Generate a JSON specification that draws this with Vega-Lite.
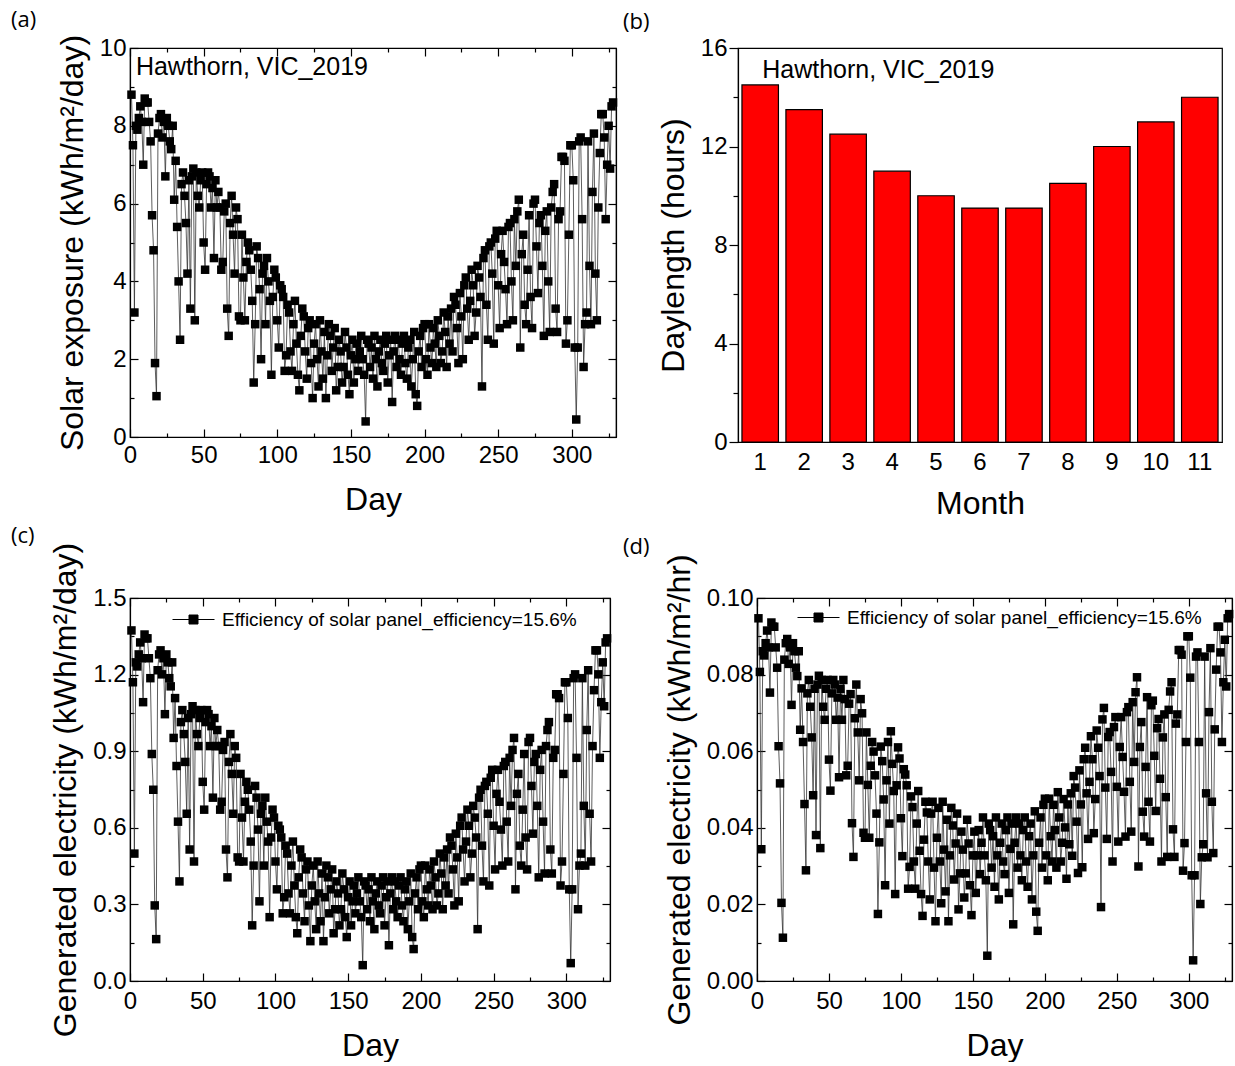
{
"$schema": "https://vega.github.io/schema/vega-lite/v6.json",
"background": "white",
"padding": {"left": 10, "top": 8, "right": 0, "bottom": 0},
"spacing": 4,
"resolve": {"scale": {"color": "independent"}, "legend": {"color": "independent"}},
"config": {
  "view": {"stroke": "black", "strokeWidth": 1.2},
  "font": "Liberation Sans",
  "axis": {"labelFont": "Liberation Sans", "labelFontSize": 24, "labelColor": "black", "titleFont": "Liberation Sans", "titleFontSize": 32, "titleFontWeight": "normal", "titleColor": "black", "domainColor": "black", "domainWidth": 1.2, "tickColor": "black", "tickWidth": 1.2, "grid": false, "labelOverlap": false, "labelFlush": false},
  "legend": {"labelFont": "Liberation Sans", "labelFontSize": 19, "labelLimit": 600, "labelColor": "black"},
  "title": {"font": "Open Sans", "fontSize": 22, "fontWeight": "normal", "anchor": "start", "frame": "group", "color": "black"}
},
"datasets": {
"months": [{"month":1,"hours":14.5},{"month":2,"hours":13.5},{"month":3,"hours":12.5},{"month":4,"hours":11},{"month":5,"hours":10},{"month":6,"hours":9.5},{"month":7,"hours":9.5},{"month":8,"hours":10.5},{"month":9,"hours":12},{"month":10,"hours":13},{"month":11,"hours":14}],
"solar": [
{"day":1,"s":8.8,"e":1.373,"h":0.0947},{"day":2,"s":7.5,"e":1.17,"h":0.0807},{"day":3,"s":3.2,"e":0.499,"h":0.0344},{"day":4,"s":8.0,"e":1.248,"h":0.0861},{"day":5,"s":7.9,"e":1.232,"h":0.085},{"day":6,"s":8.2,"e":1.279,"h":0.0882},{"day":7,"s":8.5,"e":1.326,"h":0.0915},{"day":8,"s":8.1,"e":1.264,"h":0.0871},{"day":9,"s":7.0,"e":1.092,"h":0.0753},{"day":10,"s":8.7,"e":1.357,"h":0.0936},
{"day":11,"s":8.6,"e":1.342,"h":0.0925},{"day":12,"s":8.6,"e":1.342,"h":0.0925},{"day":13,"s":8.1,"e":1.264,"h":0.0871},{"day":14,"s":7.6,"e":1.186,"h":0.0818},{"day":15,"s":5.7,"e":0.889,"h":0.0613},{"day":16,"s":4.8,"e":0.749,"h":0.0516},{"day":17,"s":1.9,"e":0.296,"h":0.0204},{"day":18,"s":1.05,"e":0.164,"h":0.0113},{"day":19,"s":7.8,"e":1.217,"h":0.0839},{"day":20,"s":8.2,"e":1.279,"h":0.0882},
{"day":21,"s":8.3,"e":1.295,"h":0.0893},{"day":22,"s":7.7,"e":1.201,"h":0.0828},{"day":23,"s":8.1,"e":1.264,"h":0.0871},{"day":24,"s":6.7,"e":1.045,"h":0.0721},{"day":25,"s":8.2,"e":1.279,"h":0.0882},{"day":26,"s":8.0,"e":1.248,"h":0.0861},{"day":27,"s":7.6,"e":1.186,"h":0.0818},{"day":28,"s":7.4,"e":1.154,"h":0.0796},{"day":29,"s":8.0,"e":1.248,"h":0.0861},{"day":30,"s":6.1,"e":0.952,"h":0.0656},
{"day":31,"s":7.1,"e":1.108,"h":0.0764},{"day":32,"s":5.4,"e":0.842,"h":0.0624},{"day":33,"s":4.0,"e":0.624,"h":0.0462},{"day":34,"s":2.5,"e":0.39,"h":0.0289},{"day":35,"s":6.5,"e":1.014,"h":0.0751},{"day":36,"s":6.8,"e":1.061,"h":0.0786},{"day":37,"s":6.2,"e":0.967,"h":0.0716},{"day":38,"s":5.5,"e":0.858,"h":0.0636},{"day":39,"s":4.2,"e":0.655,"h":0.0485},{"day":40,"s":6.6,"e":1.03,"h":0.0763},
{"day":41,"s":3.3,"e":0.515,"h":0.0381},{"day":42,"s":6.7,"e":1.045,"h":0.0774},{"day":43,"s":6.9,"e":1.076,"h":0.0797},{"day":44,"s":3.0,"e":0.468,"h":0.0347},{"day":45,"s":6.8,"e":1.061,"h":0.0786},{"day":46,"s":6.2,"e":0.967,"h":0.0716},{"day":47,"s":5.9,"e":0.92,"h":0.0682},{"day":48,"s":6.6,"e":1.03,"h":0.0763},{"day":49,"s":6.8,"e":1.061,"h":0.0786},{"day":50,"s":5.0,"e":0.78,"h":0.0578},
{"day":51,"s":4.3,"e":0.671,"h":0.0497},{"day":52,"s":6.5,"e":1.014,"h":0.0751},{"day":53,"s":6.8,"e":1.061,"h":0.0786},{"day":54,"s":6.7,"e":1.045,"h":0.0774},{"day":55,"s":5.9,"e":0.92,"h":0.0682},{"day":56,"s":6.4,"e":0.998,"h":0.074},{"day":57,"s":4.6,"e":0.718,"h":0.0532},{"day":58,"s":6.6,"e":1.03,"h":0.0763},{"day":59,"s":5.9,"e":0.92,"h":0.0682},{"day":60,"s":6.3,"e":0.983,"h":0.0786},
{"day":61,"s":5.9,"e":0.92,"h":0.0736},{"day":62,"s":4.3,"e":0.671,"h":0.0537},{"day":63,"s":4.5,"e":0.702,"h":0.0562},{"day":64,"s":5.8,"e":0.905,"h":0.0724},{"day":65,"s":6.0,"e":0.936,"h":0.0749},{"day":66,"s":3.3,"e":0.515,"h":0.0412},{"day":67,"s":2.6,"e":0.406,"h":0.0324},{"day":68,"s":5.5,"e":0.858,"h":0.0686},{"day":69,"s":6.2,"e":0.967,"h":0.0774},{"day":70,"s":5.2,"e":0.811,"h":0.0649},
{"day":71,"s":4.2,"e":0.655,"h":0.0524},{"day":72,"s":5.9,"e":0.92,"h":0.0736},{"day":73,"s":5.6,"e":0.874,"h":0.0699},{"day":74,"s":3.1,"e":0.484,"h":0.0387},{"day":75,"s":3.0,"e":0.468,"h":0.0374},{"day":76,"s":5.2,"e":0.811,"h":0.0649},{"day":77,"s":4.1,"e":0.64,"h":0.0512},{"day":78,"s":3.0,"e":0.468,"h":0.0374},{"day":79,"s":4.5,"e":0.702,"h":0.0562},{"day":80,"s":5.0,"e":0.78,"h":0.0624},
{"day":81,"s":4.8,"e":0.749,"h":0.0599},{"day":82,"s":4.3,"e":0.671,"h":0.0537},{"day":83,"s":3.5,"e":0.546,"h":0.0437},{"day":84,"s":1.4,"e":0.218,"h":0.0175},{"day":85,"s":2.9,"e":0.452,"h":0.0362},{"day":86,"s":4.9,"e":0.764,"h":0.0612},{"day":87,"s":4.6,"e":0.718,"h":0.0574},{"day":88,"s":3.8,"e":0.593,"h":0.0474},{"day":89,"s":2.0,"e":0.312,"h":0.025},{"day":90,"s":4.2,"e":0.655,"h":0.0524},
{"day":91,"s":4.4,"e":0.686,"h":0.0624},{"day":92,"s":2.9,"e":0.452,"h":0.0411},{"day":93,"s":4.6,"e":0.718,"h":0.0652},{"day":94,"s":4.0,"e":0.624,"h":0.0567},{"day":95,"s":3.5,"e":0.546,"h":0.0496},{"day":96,"s":1.6,"e":0.25,"h":0.0227},{"day":97,"s":3.6,"e":0.562,"h":0.0511},{"day":98,"s":4.3,"e":0.671,"h":0.061},{"day":99,"s":4.1,"e":0.64,"h":0.0581},{"day":100,"s":3.0,"e":0.468,"h":0.0425},
{"day":101,"s":2.3,"e":0.359,"h":0.0326},{"day":102,"s":3.9,"e":0.608,"h":0.0553},{"day":103,"s":3.8,"e":0.593,"h":0.0539},{"day":104,"s":3.6,"e":0.562,"h":0.0511},{"day":105,"s":1.7,"e":0.265,"h":0.0241},{"day":106,"s":2.1,"e":0.328,"h":0.0298},{"day":107,"s":3.4,"e":0.53,"h":0.0482},{"day":108,"s":3.2,"e":0.499,"h":0.0454},{"day":109,"s":2.2,"e":0.343,"h":0.0312},{"day":110,"s":1.7,"e":0.265,"h":0.0241},
{"day":111,"s":2.9,"e":0.452,"h":0.0411},{"day":112,"s":3.5,"e":0.546,"h":0.0496},{"day":113,"s":2.4,"e":0.374,"h":0.034},{"day":114,"s":1.6,"e":0.25,"h":0.0227},{"day":115,"s":1.2,"e":0.187,"h":0.017},{"day":116,"s":2.6,"e":0.406,"h":0.0369},{"day":117,"s":3.3,"e":0.515,"h":0.0468},{"day":118,"s":3.1,"e":0.484,"h":0.044},{"day":119,"s":2.2,"e":0.343,"h":0.0312},{"day":120,"s":1.5,"e":0.234,"h":0.0213},
{"day":121,"s":2.8,"e":0.437,"h":0.0437},{"day":122,"s":3.0,"e":0.468,"h":0.0468},{"day":123,"s":1.9,"e":0.296,"h":0.0296},{"day":124,"s":1.0,"e":0.156,"h":0.0156},{"day":125,"s":2.4,"e":0.374,"h":0.0374},{"day":126,"s":2.9,"e":0.452,"h":0.0452},{"day":127,"s":2.0,"e":0.312,"h":0.0312},{"day":128,"s":1.3,"e":0.203,"h":0.0203},{"day":129,"s":3.0,"e":0.468,"h":0.0468},{"day":130,"s":2.2,"e":0.343,"h":0.0343},
{"day":131,"s":1.5,"e":0.234,"h":0.0234},{"day":132,"s":2.7,"e":0.421,"h":0.0421},{"day":133,"s":1.0,"e":0.156,"h":0.0156},{"day":134,"s":2.1,"e":0.328,"h":0.0328},{"day":135,"s":2.9,"e":0.452,"h":0.0452},{"day":136,"s":2.6,"e":0.406,"h":0.0406},{"day":137,"s":1.7,"e":0.265,"h":0.0265},{"day":138,"s":2.3,"e":0.359,"h":0.0359},{"day":139,"s":2.8,"e":0.437,"h":0.0437},{"day":140,"s":1.2,"e":0.187,"h":0.0187},
{"day":141,"s":1.8,"e":0.281,"h":0.0281},{"day":142,"s":2.5,"e":0.39,"h":0.039},{"day":143,"s":2.2,"e":0.343,"h":0.0343},{"day":144,"s":1.4,"e":0.218,"h":0.0218},{"day":145,"s":1.8,"e":0.281,"h":0.0281},{"day":146,"s":2.7,"e":0.421,"h":0.0421},{"day":147,"s":2.3,"e":0.359,"h":0.0359},{"day":148,"s":1.6,"e":0.25,"h":0.025},{"day":149,"s":1.1,"e":0.172,"h":0.0172},{"day":150,"s":2.1,"e":0.328,"h":0.0328},
{"day":151,"s":2.5,"e":0.39,"h":0.039},{"day":152,"s":1.4,"e":0.218,"h":0.023},{"day":153,"s":2.0,"e":0.312,"h":0.0328},{"day":154,"s":2.4,"e":0.374,"h":0.0394},{"day":155,"s":1.7,"e":0.265,"h":0.0279},{"day":156,"s":2.2,"e":0.343,"h":0.0361},{"day":157,"s":2.6,"e":0.406,"h":0.0427},{"day":158,"s":2.0,"e":0.312,"h":0.0328},{"day":159,"s":1.6,"e":0.25,"h":0.0263},{"day":160,"s":0.4,"e":0.062,"h":0.0066},
{"day":161,"s":2.5,"e":0.39,"h":0.0411},{"day":162,"s":2.4,"e":0.374,"h":0.0394},{"day":163,"s":1.8,"e":0.281,"h":0.0296},{"day":164,"s":2.3,"e":0.359,"h":0.0378},{"day":165,"s":1.5,"e":0.234,"h":0.0246},{"day":166,"s":2.6,"e":0.406,"h":0.0427},{"day":167,"s":2.0,"e":0.312,"h":0.0328},{"day":168,"s":1.3,"e":0.203,"h":0.0213},{"day":169,"s":2.2,"e":0.343,"h":0.0361},{"day":170,"s":2.5,"e":0.39,"h":0.0411},
{"day":171,"s":1.9,"e":0.296,"h":0.0312},{"day":172,"s":1.7,"e":0.265,"h":0.0279},{"day":173,"s":2.4,"e":0.374,"h":0.0394},{"day":174,"s":2.6,"e":0.406,"h":0.0427},{"day":175,"s":1.4,"e":0.218,"h":0.023},{"day":176,"s":2.1,"e":0.328,"h":0.0345},{"day":177,"s":2.5,"e":0.39,"h":0.0411},{"day":178,"s":0.9,"e":0.14,"h":0.0148},{"day":179,"s":2.2,"e":0.343,"h":0.0361},{"day":180,"s":2.6,"e":0.406,"h":0.0427},
{"day":181,"s":1.8,"e":0.281,"h":0.0296},{"day":182,"s":2.5,"e":0.39,"h":0.0411},{"day":183,"s":2.0,"e":0.312,"h":0.0328},{"day":184,"s":1.6,"e":0.25,"h":0.0263},{"day":185,"s":2.4,"e":0.374,"h":0.0394},{"day":186,"s":2.6,"e":0.406,"h":0.0427},{"day":187,"s":1.9,"e":0.296,"h":0.0312},{"day":188,"s":1.5,"e":0.234,"h":0.0246},{"day":189,"s":2.3,"e":0.359,"h":0.0378},{"day":190,"s":2.5,"e":0.39,"h":0.0411},
{"day":191,"s":1.3,"e":0.203,"h":0.0213},{"day":192,"s":2.0,"e":0.312,"h":0.0328},{"day":193,"s":2.7,"e":0.421,"h":0.0443},{"day":194,"s":1.1,"e":0.172,"h":0.0181},{"day":195,"s":0.8,"e":0.125,"h":0.0131},{"day":196,"s":2.2,"e":0.343,"h":0.0361},{"day":197,"s":2.6,"e":0.406,"h":0.0427},{"day":198,"s":1.8,"e":0.281,"h":0.0296},{"day":199,"s":2.8,"e":0.437,"h":0.046},{"day":200,"s":2.9,"e":0.452,"h":0.0476},
{"day":201,"s":2.0,"e":0.312,"h":0.0328},{"day":202,"s":1.6,"e":0.25,"h":0.0263},{"day":203,"s":2.9,"e":0.452,"h":0.0476},{"day":204,"s":2.3,"e":0.359,"h":0.0378},{"day":205,"s":1.9,"e":0.296,"h":0.0312},{"day":206,"s":2.8,"e":0.437,"h":0.046},{"day":207,"s":2.4,"e":0.374,"h":0.0394},{"day":208,"s":1.8,"e":0.281,"h":0.0296},{"day":209,"s":3.0,"e":0.468,"h":0.0493},{"day":210,"s":2.6,"e":0.406,"h":0.0427},
{"day":211,"s":1.9,"e":0.296,"h":0.0312},{"day":212,"s":2.2,"e":0.343,"h":0.0361},{"day":213,"s":3.2,"e":0.499,"h":0.0475},{"day":214,"s":2.7,"e":0.421,"h":0.0401},{"day":215,"s":1.8,"e":0.281,"h":0.0267},{"day":216,"s":3.1,"e":0.484,"h":0.0461},{"day":217,"s":2.4,"e":0.374,"h":0.0357},{"day":218,"s":3.3,"e":0.515,"h":0.049},{"day":219,"s":2.2,"e":0.343,"h":0.0327},{"day":220,"s":3.6,"e":0.562,"h":0.0535},
{"day":221,"s":3.4,"e":0.53,"h":0.0505},{"day":222,"s":2.8,"e":0.437,"h":0.0416},{"day":223,"s":1.9,"e":0.296,"h":0.0282},{"day":224,"s":3.7,"e":0.577,"h":0.055},{"day":225,"s":3.1,"e":0.484,"h":0.0461},{"day":226,"s":2.0,"e":0.312,"h":0.0297},{"day":227,"s":3.9,"e":0.608,"h":0.0579},{"day":228,"s":4.1,"e":0.64,"h":0.0609},{"day":229,"s":3.3,"e":0.515,"h":0.049},{"day":230,"s":2.5,"e":0.39,"h":0.0371},
{"day":231,"s":3.5,"e":0.546,"h":0.052},{"day":232,"s":4.3,"e":0.671,"h":0.0639},{"day":233,"s":3.9,"e":0.608,"h":0.0579},{"day":234,"s":2.6,"e":0.406,"h":0.0386},{"day":235,"s":3.2,"e":0.499,"h":0.0475},{"day":236,"s":4.4,"e":0.686,"h":0.0654},{"day":237,"s":4.1,"e":0.64,"h":0.0609},{"day":238,"s":3.6,"e":0.562,"h":0.0535},{"day":239,"s":1.3,"e":0.203,"h":0.0193},{"day":240,"s":4.6,"e":0.718,"h":0.0683},
{"day":241,"s":4.8,"e":0.749,"h":0.0713},{"day":242,"s":3.4,"e":0.53,"h":0.0505},{"day":243,"s":2.5,"e":0.39,"h":0.0371},{"day":244,"s":4.9,"e":0.764,"h":0.0637},{"day":245,"s":5.0,"e":0.78,"h":0.065},{"day":246,"s":4.2,"e":0.655,"h":0.0546},{"day":247,"s":2.4,"e":0.374,"h":0.0312},{"day":248,"s":5.1,"e":0.796,"h":0.0663},{"day":249,"s":5.3,"e":0.827,"h":0.0689},{"day":250,"s":3.9,"e":0.608,"h":0.0507},
{"day":251,"s":2.8,"e":0.437,"h":0.0364},{"day":252,"s":4.7,"e":0.733,"h":0.0611},{"day":253,"s":5.3,"e":0.827,"h":0.0689},{"day":254,"s":4.5,"e":0.702,"h":0.0585},{"day":255,"s":3.8,"e":0.593,"h":0.0494},{"day":256,"s":2.9,"e":0.452,"h":0.0377},{"day":257,"s":5.4,"e":0.842,"h":0.0702},{"day":258,"s":5.5,"e":0.858,"h":0.0715},{"day":259,"s":4.0,"e":0.624,"h":0.052},{"day":260,"s":3.0,"e":0.468,"h":0.039},
{"day":261,"s":5.6,"e":0.874,"h":0.0728},{"day":262,"s":4.4,"e":0.686,"h":0.0572},{"day":263,"s":5.8,"e":0.905,"h":0.0754},{"day":264,"s":6.1,"e":0.952,"h":0.0793},{"day":265,"s":2.3,"e":0.359,"h":0.0299},{"day":266,"s":4.7,"e":0.733,"h":0.0611},{"day":267,"s":5.2,"e":0.811,"h":0.0676},{"day":268,"s":3.4,"e":0.53,"h":0.0442},{"day":269,"s":2.9,"e":0.452,"h":0.0377},{"day":270,"s":4.3,"e":0.671,"h":0.0559},
{"day":271,"s":5.7,"e":0.889,"h":0.0741},{"day":272,"s":3.6,"e":0.562,"h":0.0468},{"day":273,"s":2.8,"e":0.437,"h":0.0364},{"day":274,"s":6.0,"e":0.936,"h":0.072},{"day":275,"s":6.1,"e":0.952,"h":0.0732},{"day":276,"s":4.9,"e":0.764,"h":0.0588},{"day":277,"s":3.7,"e":0.577,"h":0.0444},{"day":278,"s":5.5,"e":0.858,"h":0.066},{"day":279,"s":5.7,"e":0.889,"h":0.0684},{"day":280,"s":4.4,"e":0.686,"h":0.0528},
{"day":281,"s":2.6,"e":0.406,"h":0.0312},{"day":282,"s":5.3,"e":0.827,"h":0.0636},{"day":283,"s":5.8,"e":0.905,"h":0.0696},{"day":284,"s":4.0,"e":0.624,"h":0.048},{"day":285,"s":2.7,"e":0.421,"h":0.0324},{"day":286,"s":5.9,"e":0.92,"h":0.0708},{"day":287,"s":6.3,"e":0.983,"h":0.0756},{"day":288,"s":6.5,"e":1.014,"h":0.078},{"day":289,"s":3.3,"e":0.515,"h":0.0396},{"day":290,"s":2.7,"e":0.421,"h":0.0324},
{"day":291,"s":5.6,"e":0.874,"h":0.0672},{"day":292,"s":5.8,"e":0.905,"h":0.0696},{"day":293,"s":7.2,"e":1.123,"h":0.0864},{"day":294,"s":7.2,"e":1.123,"h":0.0864},{"day":295,"s":7.1,"e":1.108,"h":0.0852},{"day":296,"s":2.4,"e":0.374,"h":0.0288},{"day":297,"s":3.0,"e":0.468,"h":0.036},{"day":298,"s":5.2,"e":0.811,"h":0.0624},{"day":299,"s":7.5,"e":1.17,"h":0.09},{"day":300,"s":7.5,"e":1.17,"h":0.09},
{"day":301,"s":6.6,"e":1.03,"h":0.0792},{"day":302,"s":2.3,"e":0.359,"h":0.0276},{"day":303,"s":0.45,"e":0.07,"h":0.0054},{"day":304,"s":2.3,"e":0.359,"h":0.0276},{"day":305,"s":7.6,"e":1.186,"h":0.0847},{"day":306,"s":7.7,"e":1.201,"h":0.0858},{"day":307,"s":5.6,"e":0.874,"h":0.0624},{"day":308,"s":1.8,"e":0.281,"h":0.0201},{"day":309,"s":2.9,"e":0.452,"h":0.0323},{"day":310,"s":3.2,"e":0.499,"h":0.0357},
{"day":311,"s":7.6,"e":1.186,"h":0.0847},{"day":312,"s":4.4,"e":0.686,"h":0.049},{"day":313,"s":2.9,"e":0.452,"h":0.0323},{"day":314,"s":6.3,"e":0.983,"h":0.0702},{"day":315,"s":7.8,"e":1.217,"h":0.0869},{"day":316,"s":4.2,"e":0.655,"h":0.0468},{"day":317,"s":3.0,"e":0.468,"h":0.0334},{"day":318,"s":5.9,"e":0.92,"h":0.0657},{"day":319,"s":7.3,"e":1.139,"h":0.0813},{"day":320,"s":8.3,"e":1.295,"h":0.0925},
{"day":321,"s":8.3,"e":1.295,"h":0.0925},{"day":322,"s":7.7,"e":1.201,"h":0.0858},{"day":323,"s":5.6,"e":0.874,"h":0.0624},{"day":324,"s":7.0,"e":1.092,"h":0.078},{"day":325,"s":8.0,"e":1.248,"h":0.0891},{"day":326,"s":6.9,"e":1.076,"h":0.0769},{"day":327,"s":8.5,"e":1.326,"h":0.0947},{"day":328,"s":8.6,"e":1.342,"h":0.0958}
]
},
"vconcat": [
{
 "hconcat": [
  {
   "width": 486, "height": 389,
   "title": {"text": "(a)", "dx": -119, "offset": 2},
   "layer": [
    {"data": {"name": "solar"},
     "mark": {"type": "line", "color": "#333333", "strokeWidth": 0.8},
     "encoding": {
      "x": {"field": "day", "type": "quantitative", "scale": {"domain": [0, 330], "nice": false},
            "axis": {"orient": "bottom", "title": "Day", "values": [0,25,50,75,100,125,150,175,200,225,250,275,300,325], "labelExpr": "datum.value % 50 === 0 ? datum.label : ''", "tickSize": {"condition": {"test": "datum.value % 50 === 0", "value": -8}, "value": -4}, "labelPadding": 14, "titlePadding": 13}},
      "y": {"field": "s", "type": "quantitative", "scale": {"domain": [0, 10], "nice": false},
            "axis": {"orient": "left", "title": "Solar exposure (kWh/m²/day)", "values": [0,1,2,3,4,5,6,7,8,9,10], "labelExpr": "datum.value % 2 === 0 ? datum.label : ''", "tickSize": {"condition": {"test": "datum.value % 2 === 0", "value": -8}, "value": -4}, "labelPadding": 12, "titlePadding": 10}}
     }},
    {"data": {"name": "solar"},
     "mark": {"type": "point", "shape": "square", "filled": true, "color": "black", "size": 72, "opacity": 1},
     "encoding": {
      "x": {"field": "day", "type": "quantitative", "axis": {"orient": "top", "title": null, "labels": false, "values": [0,25,50,75,100,125,150,175,200,225,250,275,300,325], "tickSize": {"condition": {"test": "datum.value % 50 === 0", "value": -8}, "value": -4}}},
      "y": {"field": "s", "type": "quantitative", "axis": {"orient": "right", "title": null, "labels": false, "values": [0,1,2,3,4,5,6,7,8,9,10], "tickSize": {"condition": {"test": "datum.value % 2 === 0", "value": -8}, "value": -4}}}
     }},
    {"data": {"values": [{"label": "Hawthorn, VIC_2019"}]},
     "mark": {"type": "text", "align": "left", "baseline": "middle", "font": "Liberation Sans", "fontSize": 25, "color": "black"},
     "encoding": {"x": {"datum": 4, "type": "quantitative", "axis": null}, "y": {"datum": 9.5, "type": "quantitative", "axis": null}, "text": {"field": "label"}}}
   ],
   "resolve": {"axis": {"x": "independent", "y": "independent"}}
  },
  {
   "width": 484, "height": 394,
   "title": {"text": "(b)", "dx": -115, "offset": 2},
   "layer": [
    {"data": {"name": "months"},
     "mark": {"type": "bar", "color": "#ff0000", "stroke": "black", "strokeWidth": 1.2},
     "encoding": {
      "x": {"field": "month", "type": "ordinal", "scale": {"paddingInner": 0.17, "paddingOuter": 0.09},
            "axis": {"title": "Month", "labelAngle": 0, "ticks": false, "labelPadding": 8, "titlePadding": 14}},
      "y": {"field": "hours", "type": "quantitative", "scale": {"domain": [0, 16], "nice": false},
            "axis": {"title": "Daylength (hours)", "values": [0,2,4,6,8,10,12,14,16], "labelExpr": "datum.value % 4 === 0 ? datum.label : ''", "tickSize": {"condition": {"test": "datum.value % 4 === 0", "value": 9}, "value": 5}, "labelPadding": 2, "titlePadding": 10}}
     }},
    {"data": {"values": [{"label": "Hawthorn, VIC_2019"}]},
     "mark": {"type": "text", "align": "left", "baseline": "middle", "font": "Liberation Sans", "fontSize": 25, "color": "black", "dx": 2},
     "encoding": {"x": {"datum": 1, "type": "ordinal"}, "y": {"datum": 15.1, "type": "quantitative"}, "text": {"field": "label"}}}
   ]
  }
 ],
 "spacing": 122,
 "bounds": "flush"
},
{
 "hconcat": [
  {
   "width": 480, "height": 383,
   "title": {"text": "(c)", "dx": -119, "offset": -6},
   "layer": [
    {"data": {"name": "solar"},
     "mark": {"type": "line", "color": "#333333", "strokeWidth": 0.8},
     "encoding": {
      "x": {"field": "day", "type": "quantitative", "scale": {"domain": [0, 330], "nice": false},
            "axis": {"orient": "bottom", "title": "Day", "values": [0,25,50,75,100,125,150,175,200,225,250,275,300,325], "labelExpr": "datum.value % 50 === 0 ? datum.label : ''", "tickSize": {"condition": {"test": "datum.value % 50 === 0", "value": -8}, "value": -4}, "labelPadding": 16, "titlePadding": 13}},
      "y": {"field": "e", "type": "quantitative", "scale": {"domain": [0, 1.5], "nice": false},
            "axis": {"orient": "left", "title": "Generated electricity (kWh/m²/day)", "format": ".1f", "values": [0,0.15,0.3,0.45,0.6,0.75,0.9,1.05,1.2,1.35,1.5], "labelExpr": "round(datum.value*100) % 30 === 0 ? datum.label : ''", "tickSize": {"condition": {"test": "round(datum.value*100) % 30 === 0", "value": -8}, "value": -4}, "labelPadding": 12, "titlePadding": 10}}
     }},
    {"data": {"name": "solar"},
     "mark": {"type": "point", "shape": "square", "filled": true, "size": 72, "opacity": 1},
     "encoding": {
      "x": {"field": "day", "type": "quantitative", "axis": {"orient": "top", "title": null, "labels": false, "values": [0,25,50,75,100,125,150,175,200,225,250,275,300,325], "tickSize": {"condition": {"test": "datum.value % 50 === 0", "value": -8}, "value": -4}}},
      "y": {"field": "e", "type": "quantitative", "axis": {"orient": "right", "title": null, "labels": false, "values": [0,0.15,0.3,0.45,0.6,0.75,0.9,1.05,1.2,1.35,1.5], "tickSize": {"condition": {"test": "round(datum.value*100) % 30 === 0", "value": -8}, "value": -4}}},
      "color": {"datum": "Efficiency of solar panel_efficiency=15.6%", "scale": {"range": ["black"]},
                "legend": {"title": null, "orient": "none", "legendX": 53, "legendY": 11, "symbolType": "M-2.1,0H2.1M-0.45,-0.45H0.45V0.45H-0.45Z", "symbolSize": 400, "symbolStrokeColor": "black", "symbolStrokeWidth": 1, "symbolFillColor": "black", "labelFont": "Liberation Sans", "labelFontSize": 19, "labelLimit": 600, "labelColor": "black", "labelOffset": 18, "padding": 0,
                           "encode": {"symbols": {"stroke": {"value": "black"}, "strokeWidth": {"value": 1}, "fill": {"value": "black"}, "opacity": {"value": 1}}}}}
     }}
   ],
   "resolve": {"axis": {"x": "independent", "y": "independent"}}
  },
  {
   "width": 475, "height": 383,
   "title": {"text": "(d)", "dx": -134, "offset": -5},
   "layer": [
    {"data": {"name": "solar"},
     "mark": {"type": "line", "color": "#333333", "strokeWidth": 0.8},
     "encoding": {
      "x": {"field": "day", "type": "quantitative", "scale": {"domain": [0, 330], "nice": false},
            "axis": {"orient": "bottom", "title": "Day", "values": [0,25,50,75,100,125,150,175,200,225,250,275,300,325], "labelExpr": "datum.value % 50 === 0 ? datum.label : ''", "tickSize": {"condition": {"test": "datum.value % 50 === 0", "value": -8}, "value": -4}, "labelPadding": 16, "titlePadding": 13}},
      "y": {"field": "h", "type": "quantitative", "scale": {"domain": [0, 0.1], "nice": false},
            "axis": {"orient": "left", "title": "Generated electricity (kWh/m²/hr)", "format": ".2f", "values": [0,0.01,0.02,0.03,0.04,0.05,0.06,0.07,0.08,0.09,0.1], "labelExpr": "round(datum.value*1000) % 20 === 0 ? datum.label : ''", "tickSize": {"condition": {"test": "round(datum.value*1000) % 20 === 0", "value": -8}, "value": -4}, "labelPadding": 12, "titlePadding": 10}}
     }},
    {"data": {"name": "solar"},
     "mark": {"type": "point", "shape": "square", "filled": true, "size": 72, "opacity": 1},
     "encoding": {
      "x": {"field": "day", "type": "quantitative", "axis": {"orient": "top", "title": null, "labels": false, "values": [0,25,50,75,100,125,150,175,200,225,250,275,300,325], "tickSize": {"condition": {"test": "datum.value % 50 === 0", "value": -8}, "value": -4}}},
      "y": {"field": "h", "type": "quantitative", "axis": {"orient": "right", "title": null, "labels": false, "values": [0,0.01,0.02,0.03,0.04,0.05,0.06,0.07,0.08,0.09,0.1], "tickSize": {"condition": {"test": "round(datum.value*1000) % 20 === 0", "value": -8}, "value": -4}}},
      "color": {"datum": "Efficiency of solar panel_efficiency=15.6%", "scale": {"range": ["black"]},
                "legend": {"title": null, "orient": "none", "legendX": 51, "legendY": 9, "symbolType": "M-2.1,0H2.1M-0.45,-0.45H0.45V0.45H-0.45Z", "symbolSize": 400, "symbolStrokeColor": "black", "symbolStrokeWidth": 1, "symbolFillColor": "black", "labelFont": "Liberation Sans", "labelFontSize": 19, "labelLimit": 600, "labelColor": "black", "labelOffset": 18, "padding": 0,
                           "encode": {"symbols": {"stroke": {"value": "black"}, "strokeWidth": {"value": 1}, "fill": {"value": "black"}, "opacity": {"value": 1}}}}}
     }}
   ],
   "resolve": {"axis": {"x": "independent", "y": "independent"}}
  }
 ],
 "spacing": 147,
 "bounds": "flush",
 "resolve": {"scale": {"color": "independent"}, "legend": {"color": "independent"}}
}
]
}
